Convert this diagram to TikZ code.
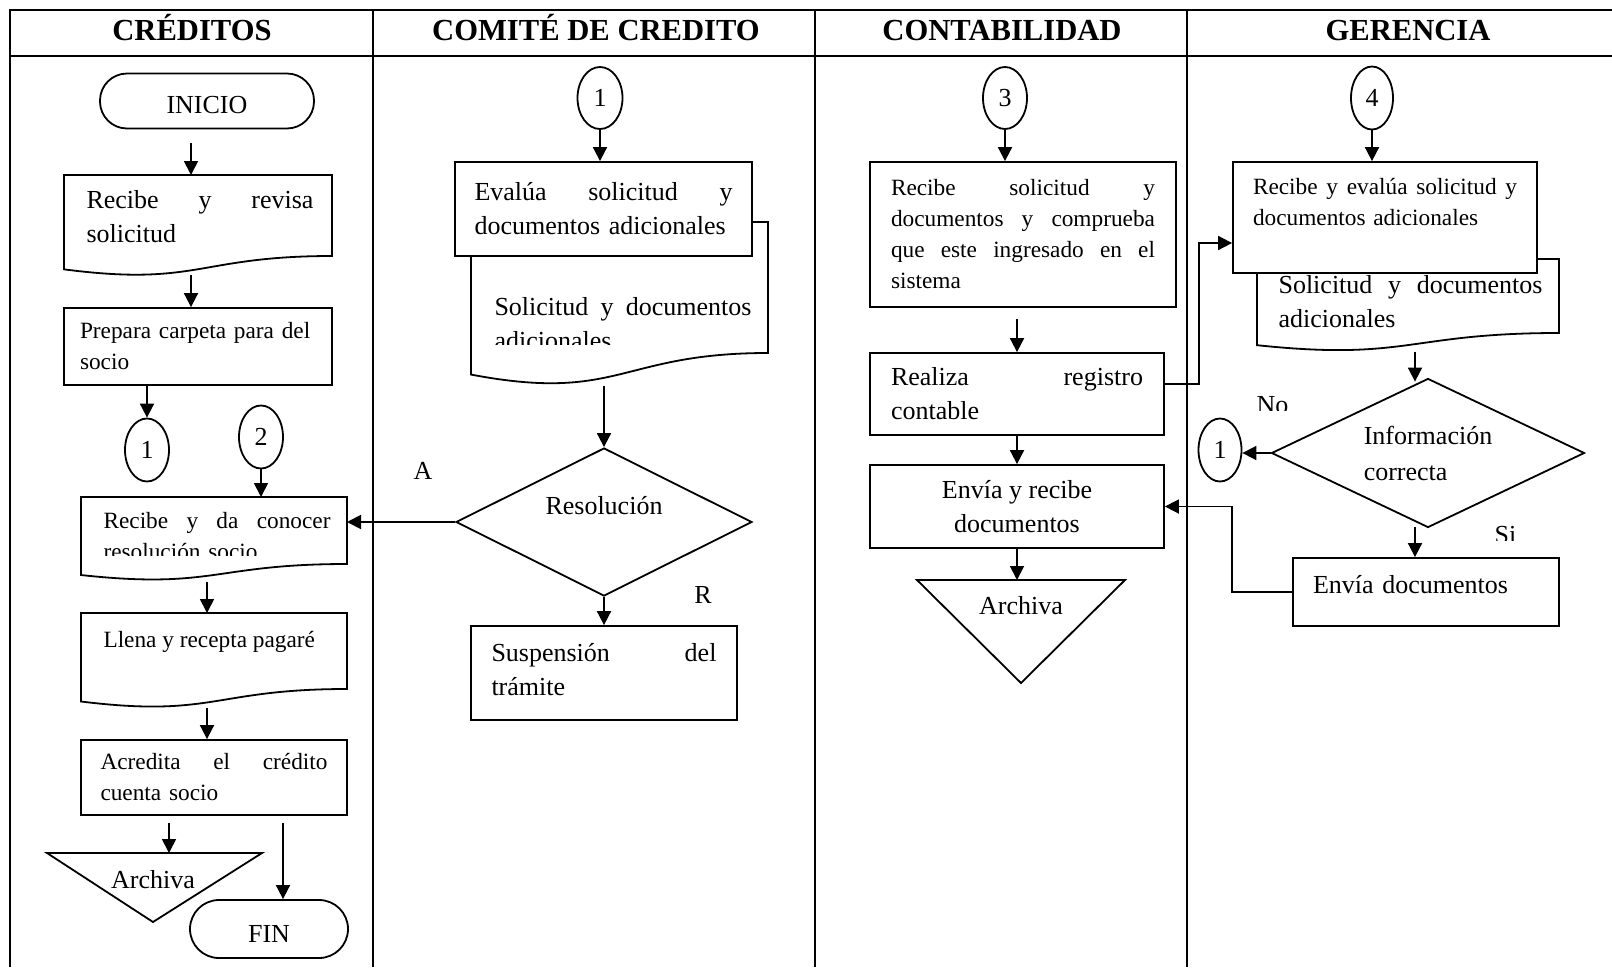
\documentclass[tikz,border=0pt]{standalone}
\usepackage{fontspec}
\setmainfont{Liberation Serif}
\usetikzlibrary{arrows.meta,calc,shapes.geometric}

\tikzset{
  lane/.style={font=\fontsize{30.6}{36}\selectfont\bfseries, anchor=base},
  txt/.style={font=\fontsize{26}{34}\selectfont},
  smalltxt/.style={font=\fontsize{23.3}{31}\selectfont},
  box/.style={draw, line width=1.8pt, rectangle, inner xsep=0pt, inner ysep=2pt},
  doc/.style={rectangle, inner sep=0pt, outer sep=0pt},
  conn/.style={draw, line width=1.8pt, ellipse, inner sep=0pt, minimum width=44, minimum height=63, txt},
  term/.style={draw, line width=1.8pt, rectangle, txt},
  decision/.style={draw, line width=1.8pt, diamond, aspect=2, inner sep=0pt, txt},
  arr/.style={line width=1.8pt, -{Triangle[length=14pt,width=14pt]}},
}

% document symbol: flat top, wavy bottom under the node's south edge
\newcommand{\docline}[1]{%
  \draw[line width=1.8pt] let \p1=(#1.north west), \p2=(#1.south east), \n1={\y1-\y2} in
    (\x2,\y2) -- (\x2,\y1) -- (\x1,\y1) -- (\x1,{\y2-0.1646*\n1})
    .. controls ({0.5*\x1+0.5*\x2},{\y2-0.3803*\n1}) and ({0.5*\x1+0.5*\x2},\y2) .. (\x2,\y2) -- cycle;}

\begin{document}
\begin{tikzpicture}[x=1pt, y=-1pt, line join=miter]
\useasboundingbox (0,0) rectangle (1612,967);
\fill[white] (0,0) rectangle (1612,967);

% lanes
\draw[line width=2.2pt] (10,967) -- (10,10) -- (1612,10);
\draw[line width=2.2pt] (10,56) -- (1612,56);
\foreach \x in {373,815,1187} \draw[line width=2pt] (\x,10) -- (\x,967);
\node[lane] (h1) at (192,40) {CRÉDITOS};
\node[lane] (h2) at (596,40) {COMITÉ DE CREDITO};
\node[lane] (h3) at (1002,40) {CONTABILIDAD};
\node[lane] (h4) at (1408,40) {GERENCIA};

% creditos
\node[term, minimum width=214, minimum height=55, rounded corners=27pt, text height=26pt] (inicio) at (207,101) {INICIO};
\node[doc, minimum width=268, minimum height=81] (recibe) at (198,215.5) {};
\docline{recibe}
\node[txt, anchor=base west, text width=227, align=left] (recibe-t) at (83,208) {Recibe\hfill y\hfill revisa\\solicitud};
\node[box, smalltxt, minimum width=268, minimum height=77, text width=236, align=left] (prepara) at (198,346.5) {Prepara carpeta para del\\socio};
\node[conn] (c1) at (147,450) {1};
\node[conn] (c2) at (261,437) {2};
\node[doc, minimum width=266, minimum height=67] (da) at (214,530.5) {};
\docline{da}
\begin{scope}
  \clip (90,495) rectangle (340,555);
  \node[smalltxt, anchor=base west, text width=227, align=left] (da-t) at (100,528) {Recibe\hfill y\hfill da\hfill conocer\\resolución socio};
\end{scope}
\node[doc, minimum width=266, minimum height=76] (llena) at (214,651) {};
\docline{llena}
\node[smalltxt, anchor=base west] (llena-t) at (100,647) {Llena y recepta pagaré};
\node[box, smalltxt, minimum width=266, minimum height=75, text width=227, align=left] (acredita) at (214,777.5) {Acredita\hfill el\hfill crédito\\cuenta socio};
\coordinate (arch1) at (154.5,853);
\draw[line width=1.8pt] (47,853) -- (262,853) -- (153,922) -- cycle;
\node[txt, anchor=base] (arch1-t) at (153,888) {Archiva};
\node[term, minimum width=158, minimum height=58, rounded corners=29pt, text height=26pt] (fin) at (269,929) {FIN};

\draw[arr] ([xshift=-16pt,yshift=-14pt]inicio.south) -- ([xshift=-7pt]recibe.north);
\draw[arr] ([xshift=-7pt,yshift=-19pt]recibe.south) -- ([xshift=-7pt]prepara.north);
\draw[arr] (prepara.south -| c1.north) -- (c1.north);
\draw[arr] (c2.south) -- (c2.south |- da.north);
\draw[arr] ([xshift=-7pt,yshift=-18pt]da.south) -- ([xshift=-7pt]llena.north);
\draw[arr] ([xshift=-7pt,yshift=-19pt]llena.south) -- ([xshift=-7pt]acredita.north);
\draw[arr] ([xshift=-45pt,yshift=-7pt]acredita.south) -- ([xshift=14.5pt]arch1);
\draw[arr] ([xshift=69pt,yshift=-7pt]acredita.south) -- ([xshift=14pt]fin.north);

% comite
\node[conn, minimum width=45, minimum height=62] (cc1) at (600,98) {1};
\node[doc, minimum width=297, minimum height=131] (cdoc) at (619.5,287.5) {};
\docline{cdoc}
\node[box, txt, fill=white, minimum width=297, minimum height=94, text width=258, align=left] (ceval) at (603.5,209) {Evalúa\hfill solicitud\hfill y\\documentos adicionales};
\begin{scope}
  \clip (480,260) rectangle (760,344);
  \node[txt, anchor=base west, text width=257, align=left] (cdoc-t) at (491,315) {Solicitud\hfill y\hfill documentos\\adicionales};
\end{scope}
\node[decision, minimum width=296, minimum height=148, align=center] (res) at (604,522) {Resolución\\~};
\node[txt, anchor=base] (lblA) at (423,479) {A};
\node[txt, anchor=base] (lblR) at (703,603) {R};
\node[box, txt, minimum width=266, minimum height=94, text width=225, text depth=42pt, align=left] (susp) at (604,673) {Suspensión\hfill del\\trámite};

\draw[arr] (cc1.south) -- (cc1.south |- ceval.north);
\draw[arr] ([xshift=-15.5pt,yshift=-33pt]cdoc.south) -- (res.north);
\draw[arr] (res.south) -- (res.south |- susp.north);
\draw[arr] (res.west) -- (res.west -| da.east);

% contabilidad
\node[conn, minimum height=62] (c3) at (1005,98) {3};
\node[box, smalltxt, minimum width=306, minimum height=145, text width=264, align=left] (crecibe) at (1023,234.5) {Recibe\hfill solicitud\hfill y\\documentos\hfill y\hfill comprueba\\que\hfill este\hfill ingresado\hfill en\hfill el\\sistema};
\node[box, txt, minimum width=294, minimum height=82, text width=252, align=left] (realiza) at (1017,394) {Realiza\hfill registro\\contable};
\node[box, txt, minimum width=294, minimum height=83, align=center] (envrec) at (1017,506.5) {Envía y recibe\\documentos};
\coordinate (arch2) at (1017,580);
\draw[line width=1.8pt] (917,580) -- (1125,580) -- (1021,683) -- cycle;
\node[txt, anchor=base] (arch2-t) at (1021,614) {Archiva};

\draw[arr] (c3.south) -- (c3.south |- crecibe.north);
\draw[arr] ([yshift=33pt]realiza.north) -- (realiza.north);
\draw[arr] (realiza.south) -- (envrec.north);
\draw[arr] (envrec.south) -- (arch2);

% gerencia
\node[conn, minimum width=42] (c4) at (1372,98) {4};
\node[doc, minimum width=302, minimum height=74] (gdoc) at (1408,296) {};
\docline{gdoc}
\node[box, smalltxt, fill=white, minimum width=304, minimum height=111, text width=264, align=left] (gevalua) at (1385,217.5) {Recibe\hfill y\hfill evalúa\hfill solicitud\hfill y\\documentos adicionales\\~};
\node[txt, anchor=base west, text width=264, align=left] (gdoc-t) at (1275,293) {Solicitud\hfill y\hfill documentos\\adicionales};
\node[decision, minimum width=313, minimum height=149, align=left] (ginfo) at (1428,453) {Información\\[2pt]correcta};
\node[conn, minimum width=43] (gc1) at (1220,450) {1};
\node[box, txt, minimum width=266, minimum height=68, text width=226, text depth=16pt, align=left] (genvia) at (1426,592) {Envía documentos};
\begin{scope}
  \clip (1240,380) rectangle (1300,410);
  \node[txt, anchor=base west] (lblNo) at (1253,413) {No};
\end{scope}
\begin{scope}
  \clip (1480,515) rectangle (1530,540);
  \node[txt, anchor=base west] (lblSi) at (1491,543) {Si};
\end{scope}

\draw[arr] (c4.south) -- (c4.south |- gevalua.north);
\draw[arr] ([xshift=-13pt,yshift=26pt]ginfo.north) -- ([xshift=-13pt,yshift=-4pt]ginfo.north);
\draw[arr] ([xshift=-13pt,yshift=1pt]ginfo.south) -- ([xshift=-11pt]genvia.north);
\draw[arr] (ginfo.west) -- (ginfo.west -| gc1.east);
\draw[arr] ([yshift=10pt]realiza.east) -- ++(34,0) |- ([yshift=-25.5pt]gevalua.west);
\draw[arr] (genvia.west) -- ++(-60,0) |- (envrec.east);
\end{tikzpicture}
\end{document}
